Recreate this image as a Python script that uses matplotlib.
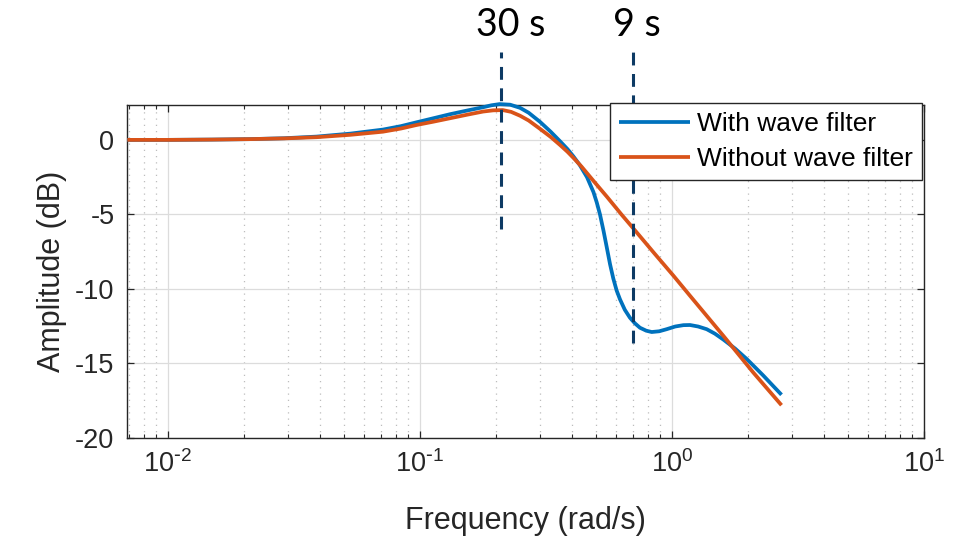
import numpy as np
import matplotlib
matplotlib.use("Agg")
import matplotlib.pyplot as plt
from matplotlib.ticker import LogLocator, FixedLocator, NullFormatter, FuncFormatter

plt.rcParams['font.family'] = ['Liberation Sans', 'DejaVu Sans']
plt.rcParams['mathtext.default'] = 'regular'
plt.rcParams['axes.unicode_minus'] = False

# ---- data ----
w_with = [0.0069, 0.01, 0.015, 0.0211, 0.0289, 0.0389, 0.053, 0.0713, 0.084, 0.097,
          0.113, 0.1315, 0.155, 0.178, 0.192, 0.207, 0.228, 0.2496, 0.27, 0.299,
          0.33, 0.36, 0.385, 0.406, 0.43, 0.46, 0.488, 0.503, 0.518, 0.535,
          0.551, 0.568, 0.585, 0.603, 0.622, 0.65, 0.681, 0.712, 0.746, 0.79,
          0.831, 0.89, 0.953, 1.03, 1.11, 1.179, 1.27, 1.373, 1.48, 1.6,
          1.78, 1.98, 2.3, 2.72]
db_with = [0.0, 0.0, 0.02, 0.05, 0.11, 0.22, 0.42, 0.69, 0.92, 1.18,
           1.45, 1.72, 1.98, 2.19, 2.32, 2.4, 2.36, 2.15, 1.82, 1.22,
           0.55, -0.1, -0.62, -1.1, -1.67, -2.5, -3.5, -4.2, -5.0, -6.1,
           -7.2, -8.35, -9.3, -10.1, -10.7, -11.4, -11.93, -12.3, -12.6, -12.8,
           -12.89, -12.84, -12.7, -12.52, -12.43, -12.42, -12.52, -12.7, -13.0, -13.4,
           -14.0, -14.7, -15.8, -17.1]

w_without = [0.0069, 0.01, 0.015, 0.0211, 0.0289, 0.0389, 0.053, 0.0713, 0.084, 0.097,
             0.113, 0.1315, 0.155, 0.178, 0.195, 0.213, 0.23, 0.2496, 0.27, 0.299,
             0.33, 0.36, 0.385, 0.406, 0.438, 0.488, 0.551, 0.63, 0.724, 0.85,
             1.012, 1.178, 1.6, 2.1, 2.72]
db_without = [0.0, 0.0, 0.02, 0.05, 0.1, 0.18, 0.34, 0.55, 0.76, 1.0,
              1.22, 1.45, 1.7, 1.9, 1.98, 2.0, 1.88, 1.62, 1.3, 0.75,
              0.2, -0.35, -0.8, -1.2, -1.8, -2.75, -3.8, -5.0, -6.2, -7.6,
              -9.1, -10.45, -13.15, -15.6, -17.8]

periods = [30, 9]           # s
period_labels = ['30 s', '9 s']
marker_bottom_db = [-6.0, -13.6]
marker_top_db = 5.9
label_offsets_pt = [7, 3]

series_labels = ['With wave filter', 'Without wave filter']
xlabel = 'Frequency (rad/s)'
ylabel = 'Amplitude (dB)'
yticks = [-20, -15, -10, -5, 0]

# ---- figure ----
fig = plt.figure(figsize=(9.6, 5.4), dpi=100)
ax = fig.add_axes([127/960, 1-438/540, (924-127)/960, (438-105)/540])

blue = '#0072BD'
orange = '#D95319'
l1, = ax.plot(w_with, db_with, color=blue, lw=2.7, label=series_labels[0],
              solid_capstyle='butt', solid_joinstyle='round', clip_on=False, zorder=3)
l2, = ax.plot(w_without, db_without, color=orange, lw=2.7, label=series_labels[1],
              solid_capstyle='butt', solid_joinstyle='round', clip_on=False, zorder=3)

ax.set_xscale('log')
ax.set_xlim(0.00688, 10)
ax.set_ylim(-20, 2.34)
ax.yaxis.set_major_locator(FixedLocator(yticks))
ax.xaxis.set_major_locator(LogLocator(base=10, numticks=10))
ax.xaxis.set_minor_locator(LogLocator(base=10, subs=np.arange(2, 10), numticks=20))
ax.xaxis.set_minor_formatter(NullFormatter())


def log_fmt(v, pos):
    e = int(round(np.log10(v)))
    if e < 0:
        return r'$10^{\text{-}%d}$' % (-e)
    return r'$10^{%d}$' % e


ax.xaxis.set_major_formatter(FuncFormatter(log_fmt))

ax.grid(True, which='major', color='#dcdcdc', lw=0.9, ls='-')
ax.grid(True, which='minor', axis='x', color='#bdbdbd', lw=0.9, ls=(0, (1, 4)))
ax.set_axisbelow(True)

for sp in ax.spines.values():
    sp.set_color('#262626')
    sp.set_linewidth(1.0)
ax.tick_params(which='both', direction='in', top=True, right=True, colors='#262626',
               labelsize=19.5, labelcolor='#262626')
ax.tick_params(which='major', length=5, width=0.9, pad=9)
ax.tick_params(which='minor', length=3, width=0.8)

ax.set_xlabel(xlabel, fontsize=22, color='#262626', labelpad=20)
ax.set_ylabel(ylabel, fontsize=22, color='#262626', labelpad=6)

# period markers
navy = '#0d3a64'
for T, lab, yb, dx in zip(periods, period_labels, marker_bottom_db, label_offsets_pt):
    wf = 2*np.pi/T
    ax.plot([wf, wf], [yb, marker_top_db], color=navy, lw=2.2, dashes=(4.2, 2.8),
            clip_on=False, zorder=4)
    ax.annotate(lab, xy=(wf, 1-25/540), xycoords=('data', 'figure fraction'),
                xytext=(dx, 0), textcoords='offset points', ha='center', va='center',
                fontsize=27, family=['Lato', 'DejaVu Sans'], color='black')

leg = ax.legend(handles=[l1, l2], loc='upper right',
                bbox_to_anchor=(922/960, 1-103/540), bbox_transform=fig.transFigure,
                fontsize=19, frameon=True, fancybox=False, framealpha=1,
                edgecolor='#262626', borderpad=0.35, handlelength=2.7,
                handletextpad=0.25, labelspacing=0.4, borderaxespad=0)
leg.get_frame().set_linewidth(1.0)
leg.set_zorder(5)

fig.savefig('out.png', dpi=100)
